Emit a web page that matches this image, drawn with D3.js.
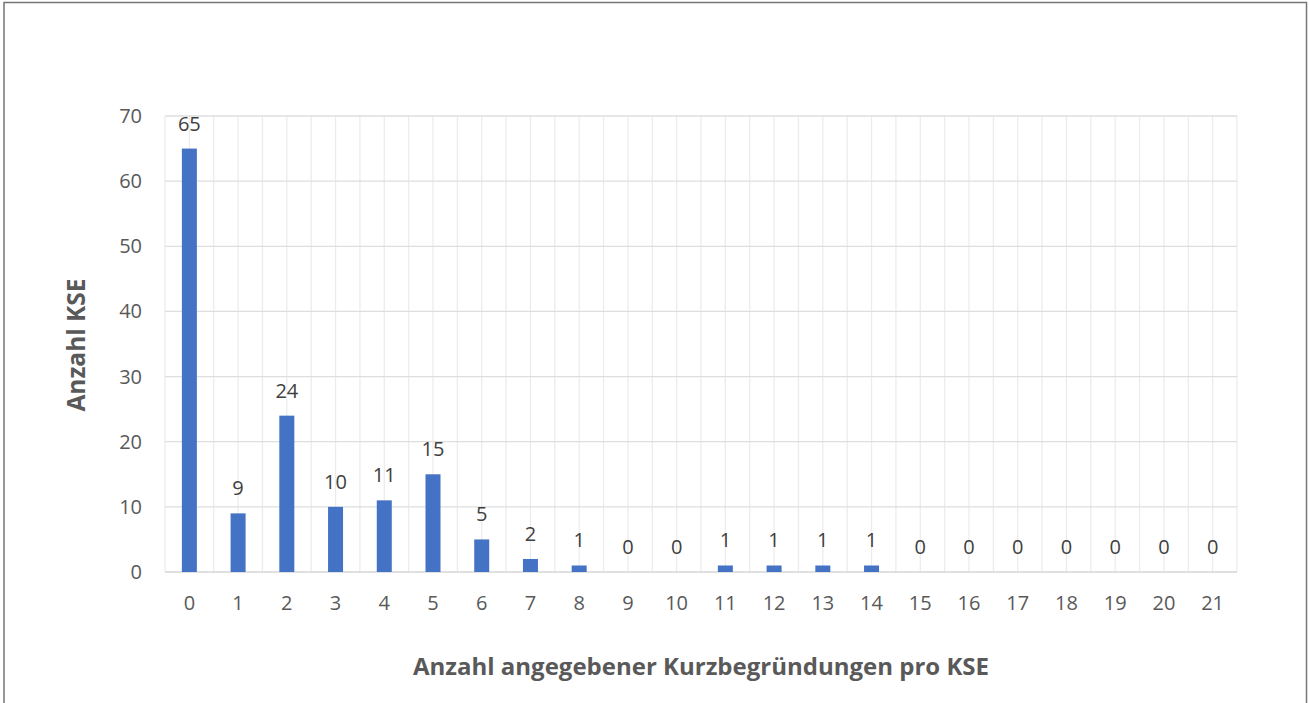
<!DOCTYPE html>
<html><head><meta charset="utf-8">
<script src="https://cdn.jsdelivr.net/npm/d3@7"></script>
<style>body{margin:0;background:#fff}svg{display:block}</style>
</head><body>
<svg id="c" width="1309" height="703"></svg>
<script>
const categories = ["0","1","2","3","4","5","6","7","8","9","10","11","12","13","14","15","16","17","18","19","20","21"];
const values = [65,9,24,10,11,15,5,2,1,0,0,1,1,1,1,0,0,0,0,0,0,0];
const yTicks = [0,10,20,30,40,50,60,70];
const yTitle = "Anzahl KSE";
const xTitle = "Anzahl angegebener Kurzbegründungen pro KSE";

const svg = d3.select("#c");
const font = "'Open Sans', 'Noto Sans', sans-serif";
svg.append("rect").attr("x",4).attr("y",2.5).attr("width",1302.5).attr("height",710)
  .attr("fill","#fff").attr("stroke","#767676").attr("stroke-width",1.5);

const L=165,R=1237,T=116,B=572;
const x = d3.scaleBand().domain(categories).range([L,R]).paddingInner(0).paddingOuter(0);
const y = d3.scaleLinear().domain([0,70]).range([B,T]);
const g = svg.append("g");

const half = x.bandwidth()/2;
const vx = d3.range(0, categories.length*2+1).map(i => L + i*half);
g.selectAll("line.v").data(vx).join("line").attr("class","v")
  .attr("x1",d=>d).attr("x2",d=>d).attr("y1",T).attr("y2",B)
  .attr("stroke","#ececec").attr("stroke-width",1.3);
g.selectAll("line.h").data(yTicks.filter(d=>d>0)).join("line").attr("class","h")
  .attr("x1",L).attr("x2",R).attr("y1",d=>y(d)).attr("y2",d=>y(d))
  .attr("stroke","#dedede").attr("stroke-width",1.3);
g.append("line").attr("x1",L).attr("x2",R).attr("y1",B).attr("y2",B)
  .attr("stroke","#d6d6d6").attr("stroke-width",1.5);

const bw = 15;
g.selectAll("rect.bar").data(values).join("rect").attr("class","bar")
  .attr("x",(d,i)=>x(categories[i])+x.bandwidth()/2-bw/2)
  .attr("width",bw)
  .attr("y",d=>y(d)).attr("height",d=>B-y(d))
  .attr("fill","#4472C4");

g.selectAll("text.lab").data(values).join("text").attr("class","lab")
  .attr("x",(d,i)=>x(categories[i])+x.bandwidth()/2)
  .attr("y",d=>y(d)-18)
  .attr("text-anchor","middle").attr("font-family",font).attr("font-size",20)
  .attr("fill","#404040").text(d=>d);

g.selectAll("text.yt").data(yTicks).join("text").attr("class","yt")
  .attr("x",142).attr("y",d=>y(d)).attr("dy","0.35em")
  .attr("text-anchor","end").attr("font-family",font).attr("font-size",20)
  .attr("fill","#595959").text(d=>d);
g.selectAll("text.xt").data(categories).join("text").attr("class","xt")
  .attr("x",d=>x(d)+x.bandwidth()/2).attr("y",603).attr("dy","0.35em")
  .attr("text-anchor","middle").attr("font-family",font).attr("font-size",20)
  .attr("fill","#595959").text(d=>d);

svg.append("text").attr("transform","translate(76,345) rotate(-90)").attr("dy","0.35em")
  .attr("text-anchor","middle").attr("font-family",font).attr("font-size",24.5).attr("font-weight","bold")
  .attr("fill","#595959").text(yTitle);
svg.append("text").attr("x",701).attr("y",667).attr("dy","0.35em")
  .attr("text-anchor","middle").attr("font-family",font).attr("font-size",24).attr("font-weight","bold")
  .attr("fill","#595959").text(xTitle);
</script>
</body></html>
